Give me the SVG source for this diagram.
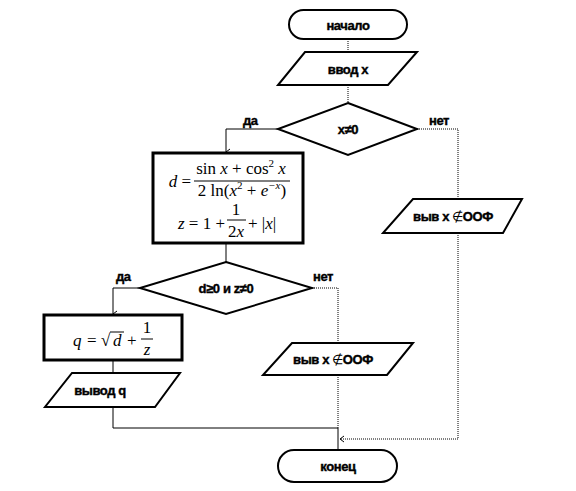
<svg xmlns="http://www.w3.org/2000/svg" width="576" height="491" viewBox="0 0 576 491">
<style>
.shape{fill:#ffffff;stroke:#000;stroke-width:2}
.thick{fill:#ffffff;stroke:#000;stroke-width:3}
.lbl{font-family:"Liberation Sans",Arial,sans-serif;font-weight:bold;font-size:13px;fill:#000;stroke:#000;stroke-width:0.4;text-anchor:middle;letter-spacing:-0.4px}
.yn{font-family:"Liberation Sans",Arial,sans-serif;font-weight:bold;font-size:13px;fill:#000;stroke:#000;stroke-width:0.4;letter-spacing:-0.4px}
.nb{font-weight:normal;stroke-width:0}
.m{font-family:"Liberation Serif","Times New Roman",serif;font-size:17px;fill:#000}
.it{font-style:italic}
.solid{fill:none;stroke:#000;stroke-width:1}
.dot{fill:none;stroke:#000;stroke-width:1;stroke-dasharray:1 1}
</style>
<defs>
<marker id="arr" markerWidth="8" markerHeight="8" refX="4" refY="7" orient="auto-start-reverse" markerUnits="userSpaceOnUse" viewBox="0 0 8 8">
<path d="M1,3 L4,7 L7,3" fill="none" stroke="#000" stroke-width="1"/>
</marker>
<marker id="arrL" markerWidth="8" markerHeight="8" refX="1" refY="4" orient="0" markerUnits="userSpaceOnUse" viewBox="0 0 8 8">
<path d="M5,1 L1,4 L5,7" fill="none" stroke="#000" stroke-width="1"/>
</marker>
</defs>
<g id="connectors">
<line class="dot" x1="348" y1="39" x2="348" y2="52"/>
<line class="dot" x1="348" y1="85" x2="348" y2="103"/>
<polyline class="solid" points="278,129 226,129 226,152" marker-end="url(#arr)"/>
<polyline class="dot" points="417,129 458,129 458,199"/>
<line class="dot" x1="458" y1="233" x2="458" y2="439"/>
<line class="dot" x1="458" y1="439" x2="340" y2="439" marker-end="url(#arrL)"/>
<line class="solid" x1="226" y1="243" x2="226" y2="262"/>
<polyline class="solid" points="140,288 113,288 113,314" marker-end="url(#arr)"/>
<polyline class="dot" points="312,288 338,288 338,343"/>
<line class="dot" x1="338" y1="375" x2="338" y2="428"/>
<line class="solid" x1="113" y1="360" x2="113" y2="373"/>
<polyline class="solid" points="113,407 113,428 338,428 338,450"/>
<text class="yn" x="243" y="125">да</text>
<text class="yn" x="429" y="125">нет</text>
<text class="yn" x="116" y="281">да</text>
<text class="yn" x="313" y="281">нет</text>
</g>
<g id="start">
<rect class="shape" x="289" y="10" width="118" height="29" rx="14.5"/>
<text class="lbl" x="348" y="30">начало</text>
</g>
<g id="input">
<polygon class="shape" points="305,52 417,52 388,85 278,85"/>
<text class="lbl" x="348" y="74">ввод x</text>
</g>
<g id="cond1">
<polygon class="shape" points="348,103 417,129 348,155 278,129"/>
<text class="lbl" x="348" y="134">x≠0</text>
</g>
<g id="calc">
<rect class="thick" x="153" y="153" width="150" height="90"/>
<text class="m" x="241" y="174" text-anchor="middle">sin <tspan class="it">x</tspan> + cos<tspan font-size="11" dy="-7">2</tspan><tspan dy="7"> </tspan><tspan class="it">x</tspan></text>
<line x1="194" y1="181" x2="290" y2="181" stroke="#000" stroke-width="1"/>
<text class="m" x="242" y="196" text-anchor="middle">2 ln(<tspan class="it">x</tspan><tspan font-size="11" dy="-7">2</tspan><tspan dy="7"> + </tspan><tspan class="it">e</tspan><tspan font-size="11" dy="-7" class="it">−x</tspan><tspan dy="7">)</tspan></text>
<text class="m" x="191" y="187" text-anchor="end"><tspan class="it">d</tspan> = </text>
<text class="m" x="225" y="229" text-anchor="end"><tspan class="it">z</tspan> = 1 + </text>
<text class="m" x="236" y="215" text-anchor="middle">1</text>
<line x1="227" y1="220" x2="246" y2="220" stroke="#000" stroke-width="1"/>
<text class="m" x="236" y="237" text-anchor="middle">2<tspan class="it">x</tspan></text>
<text class="m" x="248" y="229"> + |<tspan class="it">x</tspan>|</text>
</g>
<g id="err1">
<polygon class="shape" points="413,199 522,199 503,233 383,233"/>
<text class="lbl" x="453" y="221">выв x <tspan class="nb">∉</tspan>ООФ</text>
</g>
<g id="cond2">
<polygon class="shape" points="226,262 312,288 226,314 140,288"/>
<text class="lbl" x="226" y="293">d≥0 и z≠0</text>
</g>
<g id="calcq">
<rect class="thick" x="44" y="315" width="138" height="45"/>
<text class="m it" x="73" y="346">q</text>
<text class="m" x="87" y="346">=</text>
<text class="m" x="101" y="346">√</text>
<line x1="110" y1="332" x2="124" y2="332" stroke="#000" stroke-width="1"/>
<text class="m it" x="113" y="346">d</text>
<text class="m" x="127" y="346" fill="#b06a20">+</text>
<text class="m" x="147" y="333" text-anchor="middle">1</text>
<line x1="141" y1="339" x2="153" y2="339" stroke="#000" stroke-width="1"/>
<text class="m" x="147" y="355" text-anchor="middle" font-style="italic">z</text>
</g>
<g id="outq">
<polygon class="shape" points="72,373 180,373 155,407 45,407"/>
<text class="lbl" x="100" y="395">вывод q</text>
</g>
<g id="err2">
<polygon class="shape" points="292,343 413,343 387,375 263,375"/>
<text class="lbl" x="333" y="364">выв x <tspan class="nb">∉</tspan>ООФ</text>
</g>
<g id="end">
<rect class="shape" x="278" y="450" width="119" height="32" rx="16"/>
<text class="lbl" x="338" y="471">конец</text>
</g>
</svg>
